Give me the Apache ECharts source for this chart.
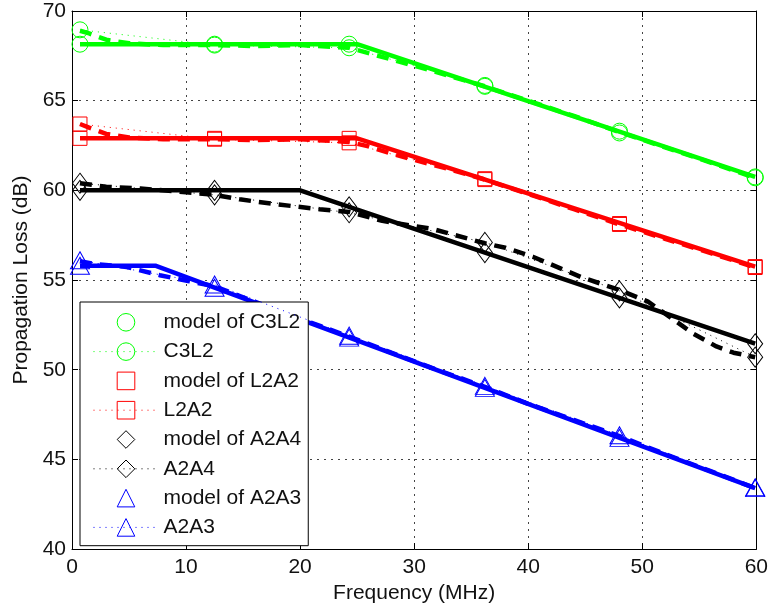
<!DOCTYPE html>
<html><head><meta charset="utf-8">
<script src="https://cdn.jsdelivr.net/npm/echarts@6/dist/echarts.min.js"></script>
<style>html,body{margin:0;padding:0;background:#fff}#c{width:771px;height:609px}</style>
</head><body><div id="c"></div>
<script>
// ---- data ----
const xTicks = [0, 10, 20, 30, 40, 50, 60];
const yTicks = [40, 45, 50, 55, 60, 65, 70];
const markerFreq = [0.7, 12.5, 24.3, 36.2, 48.0, 59.9];

// C3L2
const modelC3L2 = [68.15, 68.15, 68.15, 65.8, 63.3, 60.75];
const dataC3L2 = [68.95, 68.1, 67.95, 65.85, 63.2, 60.7];
const modelLineFreqC3L2 = [0.7, 25.0, 59.9];
const modelLineC3L2 = [68.15, 68.15, 60.75];
const measFreqC3L2 = [0.7, 1.5, 3, 5, 8, 12.5, 16, 20, 24.3, 26, 28, 30, 33, 36.2, 40, 44, 48, 52, 56, 59.9];
const measC3L2 = [68.9, 68.75, 68.4, 68.2, 68.1, 68.1, 68.05, 68.1, 67.95, 67.65, 67.3, 66.95, 66.4, 65.8, 65.0, 64.15, 63.25, 62.4, 61.55, 60.7];

// L2A2
const modelL2A2 = [62.9, 62.9, 62.9, 60.6, 58.15, 55.75];
const dataL2A2 = [63.7, 62.85, 62.65, 60.65, 58.1, 55.7];
const modelLineFreqL2A2 = [0.7, 25.0, 59.9];
const modelLineL2A2 = [62.9, 62.9, 55.75];
const measFreqL2A2 = [0.7, 1.5, 3, 5, 8, 12.5, 16, 20, 24.3, 26, 28, 30, 33, 36.2, 40, 44, 48, 52, 56, 59.9];
const measL2A2 = [63.7, 63.5, 63.15, 62.95, 62.85, 62.85, 62.8, 62.85, 62.7, 62.45, 62.05, 61.7, 61.2, 60.6, 59.8, 58.95, 58.1, 57.3, 56.5, 55.7];

// A2A4
const modelA2A4 = [60.0, 60.0, 59.08, 56.53, 54.0, 51.45];
const dataA2A4 = [60.4, 59.75, 58.75, 57.1, 54.4, 50.7];
const modelLineFreqA2A4 = [0.7, 20.0, 59.9];
const modelLineA2A4 = [60.0, 60.0, 51.45];
const measFreqA2A4 = [0.7, 3, 6, 10, 12.5, 14.7, 17.6, 21.7, 24.3, 27.2, 31.6, 36.2, 38.0, 40.4, 44.7, 48, 50.5, 52.5, 54.5, 56.5, 58, 59.9];
const measA2A4 = [60.4, 60.2, 60.1, 59.9, 59.75, 59.5, 59.25, 58.95, 58.8, 58.3, 57.85, 57.05, 56.8, 56.3, 55.15, 54.45, 53.8, 52.9, 52.0, 51.3, 50.95, 50.7];

// A2A3
const modelA2A3 = [55.8, 54.57, 51.79, 48.99, 46.2, 43.4];
const dataA2A3 = [56.1, 54.75, 51.9, 49.1, 46.35, 43.45];
const modelLineFreqA2A3 = [0.7, 7.3, 59.9];
const modelLineA2A3 = [55.8, 55.8, 43.4];
const measFreqA2A3 = [0.7, 2, 4.8, 7.7, 10.3, 12.5, 16, 20, 24.3, 28, 32, 36.2, 40, 44, 48, 52, 56, 59.9];
const measA2A3 = [56.05, 55.9, 55.73, 55.27, 54.93, 54.65, 53.8, 52.85, 51.85, 50.95, 50.0, 49.05, 48.1, 47.2, 46.3, 45.3, 44.35, 43.4];

// ---- build ----
const FONT = 'Liberation Sans, Arial, Helvetica, sans-serif';
function zip(xs, ys) { return xs.map((x, i) => [x, ys[i]]); }

function modelLine(id, xs, ys, color) {
  return { type: 'line', name: '_m' + id, data: zip(xs, ys), symbol: 'none', silent: true,
    lineStyle: { color, width: 4.5, type: 'solid' }, z: 3 };
}
function measLine(id, xs, ys, color) {
  return { type: 'line', name: '_d' + id, data: zip(xs, ys), symbol: 'none', silent: true,
    lineStyle: { color, width: 4.5, type: [12, 8] }, z: 2 };
}
function modelMarks(name, ys, color, symbol, size) {
  return { type: 'line', name, data: zip(markerFreq, ys), symbol, symbolSize: size, showSymbol: true,
    itemStyle: { color: 'none', borderColor: color, borderWidth: 1 },
    lineStyle: { color, width: 1, opacity: 0 }, z: 5 };
}
function dataMarks(name, ys, color, symbol, size) {
  return { type: 'line', name, data: zip(markerFreq, ys), symbol, symbolSize: size, showSymbol: true,
    itemStyle: { color: 'none', borderColor: color, borderWidth: 1 },
    lineStyle: { color, width: 1, type: [1, 5] }, z: 4 };
}

const G = '#00ff00', R = '#ff0000', K = '#000000', B = '#0000ff';
const series = [
  modelMarks('model of C3L2', modelC3L2, G, 'circle', 16),
  dataMarks('C3L2', dataC3L2, G, 'circle', 16),
  modelMarks('model of L2A2', modelL2A2, R, 'rect', 14),
  dataMarks('L2A2', dataL2A2, R, 'rect', 14),
  modelMarks('model of A2A4', modelA2A4, K, 'diamond', [15, 20]),
  dataMarks('A2A4', dataA2A4, K, 'diamond', [15, 20]),
  modelMarks('model of A2A3', modelA2A3, B, 'triangle', [19, 17]),
  dataMarks('A2A3', dataA2A3, B, 'triangle', [19, 17]),
  measLine('C3L2', measFreqC3L2, measC3L2, G),
  modelLine('C3L2', modelLineFreqC3L2, modelLineC3L2, G),
  measLine('L2A2', measFreqL2A2, measL2A2, R),
  modelLine('L2A2', modelLineFreqL2A2, modelLineL2A2, R),
  measLine('A2A4', measFreqA2A4, measA2A4, K),
  modelLine('A2A4', modelLineFreqA2A4, modelLineA2A4, K),
  measLine('A2A3', measFreqA2A3, measA2A3, B),
  modelLine('A2A3', modelLineFreqA2A3, modelLineA2A3, B)
];

const axisCommon = {
  axisLine: { show: true, onZero: false, lineStyle: { color: '#000', width: 1 } },
  axisTick: { show: true, inside: true, length: 6, lineStyle: { color: '#000' } }
};
const chart = echarts.init(document.getElementById('c'), null, { renderer: 'canvas' });
chart.setOption({
  animation: false,
  backgroundColor: '#fff',
  textStyle: { fontFamily: FONT },
  grid: { left: 72, right: 13, top: 11, bottom: 57, containLabel: false },
  legend: {
    orient: 'vertical', left: 80, top: 302,
    data: ['model of C3L2', 'C3L2', 'model of L2A2', 'L2A2', 'model of A2A4', 'A2A4', 'model of A2A3', 'A2A3'],
    itemWidth: 65, itemHeight: 22, itemGap: 6.7,
    padding: [9, 7, 7, 13],
    backgroundColor: '#fff', borderColor: '#000', borderWidth: 1, borderRadius: 0,
    itemStyle: { borderWidth: 1 },
    lineStyle: { width: 1 },
    textStyle: { fontFamily: FONT, fontSize: 21, lineHeight: 20, color: '#111' },
    selectedMode: false
  },
  xAxis: [
    Object.assign({
      type: 'value', position: 'bottom', min: xTicks[0], max: xTicks[xTicks.length - 1], interval: 10,
      name: 'Frequency (MHz)', nameLocation: 'middle', nameGap: 31,
      nameTextStyle: { fontFamily: FONT, fontSize: 21, color: '#111' },
      axisLabel: { fontFamily: FONT, fontSize: 21, color: '#111', margin: 8 },
      splitLine: { show: true, lineStyle: { color: '#444', width: 1, type: [2, 5] } }
    }, axisCommon),
    Object.assign({
      type: 'value', position: 'top', min: xTicks[0], max: xTicks[xTicks.length - 1], interval: 10,
      axisLabel: { show: false }, splitLine: { show: false }
    }, axisCommon)
  ],
  yAxis: [
    Object.assign({
      type: 'value', position: 'left', min: yTicks[0], max: yTicks[yTicks.length - 1], interval: 5,
      name: 'Propagation Loss (dB)', nameLocation: 'middle', nameGap: 36,
      nameTextStyle: { fontFamily: FONT, fontSize: 21, color: '#111' },
      axisLabel: { fontFamily: FONT, fontSize: 21, color: '#111', margin: 6 },
      splitLine: { show: true, lineStyle: { color: '#444', width: 1, type: [2, 5] } }
    }, axisCommon),
    Object.assign({
      type: 'value', position: 'right', min: yTicks[0], max: yTicks[yTicks.length - 1], interval: 5,
      axisLabel: { show: false }, splitLine: { show: false }
    }, axisCommon)
  ],
  series: series
});
</script>
</body></html>
